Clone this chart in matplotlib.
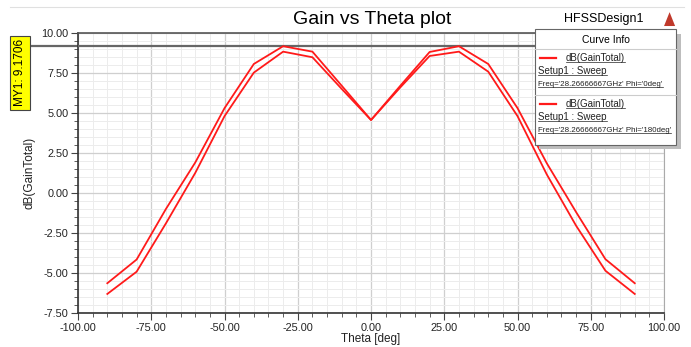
import numpy as np
import matplotlib
matplotlib.use("Agg")
import matplotlib.pyplot as plt
from matplotlib.ticker import MultipleLocator, FormatStrFormatter
from matplotlib.patches import Rectangle, Polygon

plt.rcParams['font.family'] = ['Liberation Sans', 'DejaVu Sans']

# ── Data ─────────────────────────────────────────────────────
theta = np.array([-90, -80, -70, -60, -50, -40, -30, -20, -10, 0,
                  10, 20, 30, 40, 50, 60, 70, 80, 90])
gain_phi0 = np.array([-5.64, -4.16, -1.00, 1.90, 5.30, 8.06, 9.17, 8.83, 6.70, 4.56,
                      6.70, 8.81, 9.17, 8.06, 5.30, 1.85, -1.20, -4.14, -5.64])
gain_phi180 = np.array([-6.31, -4.92, -1.90, 1.25, 4.80, 7.52, 8.83, 8.48, 6.50, 4.56,
                        6.60, 8.56, 8.83, 7.58, 4.80, 1.15, -2.05, -4.86, -6.31])
marker_val = 9.1706
curve_names = ["Freq='28.26666667GHz' Phi='0deg'",
               "Freq='28.26666667GHz' Phi='180deg'"]

# ── Figure ───────────────────────────────────────────────────
fig = plt.figure(figsize=(6.91, 3.47), dpi=100)
ax = fig.add_axes([0.1129, 0.098, 0.8481, 0.8071])

ax.set_xlim(-100, 100)
ax.set_ylim(-7.5, 10)
ax.xaxis.set_major_locator(MultipleLocator(25))
ax.xaxis.set_minor_locator(MultipleLocator(5))
ax.yaxis.set_major_locator(MultipleLocator(2.5))
ax.yaxis.set_minor_locator(MultipleLocator(0.5))
ax.xaxis.set_major_formatter(FormatStrFormatter('%.2f'))
ax.yaxis.set_major_formatter(FormatStrFormatter('%.2f'))
ax.grid(True, which='major', color='#cfcfcf', lw=0.9)
ax.grid(True, which='minor', color='#ececec', lw=0.7)
ax.set_axisbelow(True)
ax.tick_params(which='both', direction='out', colors='#444444', labelsize=7.8,
               labelcolor='#222222')
ax.tick_params(which='major', length=5, pad=2)
ax.tick_params(which='minor', length=3)
for side in ['left', 'bottom']:
    ax.spines[side].set_color('#333333'); ax.spines[side].set_linewidth(1.2)
ax.spines['top'].set_color('#555555'); ax.spines['top'].set_linewidth(1.2)
ax.spines['right'].set_color('#aaaaaa')

ax.plot(theta, gain_phi0, color='#ff1a1a', lw=1.3, zorder=4)
ax.plot(theta, gain_phi180, color='#ff1a1a', lw=1.3, zorder=4)

# marker line and its tag
ax.axhline(marker_val, color='#666666', lw=1.6, zorder=3)
ax.plot([-118, -100], [marker_val, marker_val], color='#666666', lw=1.6,
        clip_on=False)
fig.text(0.029, 0.79, f'MY1: {marker_val:.4f}', rotation=90, ha='center',
         va='center', fontsize=8.5,
         bbox=dict(boxstyle='square,pad=0.3', fc='#ffff00', ec='#444444', lw=0.8))

ax.set_xlabel('Theta [deg]', fontsize=8.5, labelpad=0, color='#222222')
ax.set_ylabel('dB(GainTotal)', fontsize=8.5, labelpad=4, color='#222222')

fig.text(0.538, 0.945, 'Gain vs Theta plot', ha='center', va='center', fontsize=14)
fig.text(0.874, 0.945, 'HFSSDesign1', ha='center', va='center', fontsize=9)
fig.add_artist(plt.Line2D([0.015, 0.99], [0.98, 0.98], color='#e0e0e0', lw=0.8))
# small logo
fig.add_artist(Polygon([[0.961, 0.925], [0.977, 0.925], [0.969, 0.965]],
                       closed=True, fc='#c0392b', ec='none'))
fig.text(0.969, 0.910, 'ANSOFT', ha='center', va='center', fontsize=2.5, color='#666')

# curve info box
bx, by, bw, bh = 0.774, 0.582, 0.205, 0.333
fig.add_artist(Rectangle((bx + 0.006, by - 0.012), bw, bh, fc='#bdbdbd', ec='none',
                         transform=fig.transFigure, zorder=5))
fig.add_artist(Rectangle((bx, by), bw, bh, fc='white', ec='#666666', lw=0.8,
                         transform=fig.transFigure, zorder=6))
fig.text(bx + bw / 2, 0.885, 'Curve Info', ha='center', va='center',
         fontsize=7.5, zorder=7)
for yy in [0.859, 0.726]:
    fig.add_artist(plt.Line2D([bx, bx + bw], [yy, yy], color='#cccccc', lw=0.8,
                              zorder=7))
for i, name in enumerate(curve_names):
    top = 0.833 - i * 0.133
    fig.add_artist(plt.Line2D([bx + 0.008, bx + 0.030], [top, top],
                              color='#ff1a1a', lw=1.6, zorder=7))
    for j, s in enumerate(['dB(GainTotal)', 'Setup1 : Sweep', name]):
        x0 = bx + 0.045 if j == 0 else bx + 0.005
        fs = 5.7 if j == 2 else 7
        t = fig.text(x0, top - j * 0.038, s, ha='left', va='center',
                     fontsize=fs, zorder=7, color='#222222')
        fig.canvas.draw()
        bb = t.get_window_extent().transformed(fig.transFigure.inverted())
        fig.add_artist(plt.Line2D([bb.x0, bb.x1], [bb.y0 + 0.003, bb.y0 + 0.003],
                                  color='#222222', lw=0.5, zorder=7))

fig.savefig('out.png', dpi=100)
